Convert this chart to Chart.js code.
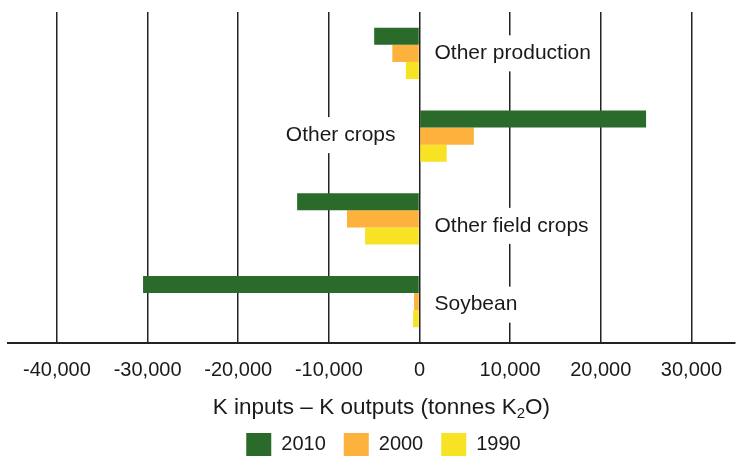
<!DOCTYPE html>
<html>
<head>
<meta charset="utf-8">
<script src="https://cdn.jsdelivr.net/npm/chart.js@4/dist/chart.umd.min.js"></script>
<style>
  html, body { margin: 0; padding: 0; background: #fff; }
  #wrap { width: 737px; height: 456px; }
</style>
</head>
<body>
<div id="wrap"><canvas id="myChart"></canvas></div>
<script>
// Balanço de K por categoria (toneladas K2O)
const categories = ['Other production', 'Other crops', 'Other field crops', 'Soybean'];
const years = ['2010', '2000', '1990'];
const values2010 = [-5000, 25000, -13500, -30500];
const values2000 = [-3000, 6000, -8000, -600];
const values1990 = [-1500, 3000, -6000, -700];
const xTicks = [-40000, -30000, -20000, -10000, 0, 10000, 20000, 30000];

const FONT = '"Liberation Sans", Arial, Helvetica, sans-serif';
const TEXT = '#1a1a1a';
// ajuste vertical (px) de cada rótulo de categoria
const labelNudge = [0, -1, 7, 3];

// Rótulos das categorias junto à linha do zero, com fundo branco
const categoryLabels = {
  id: 'categoryLabels',
  afterDatasetsDraw(chart) {
    const { ctx, scales: { x, y } } = chart;
    const zero = x.getPixelForValue(0);
    ctx.save();
    ctx.font = '21px ' + FONT;
    ctx.textBaseline = 'middle';
    ctx.textAlign = 'left';
    categories.forEach((name, i) => {
      const cy = y.getPixelForValue(i) + labelNudge[i];
      const w = ctx.measureText(name).width;
      const tx = values2010[i] > 0 ? zero - 24 - w : zero + 15;
      ctx.fillStyle = '#fff';
      ctx.fillRect(tx - 5, cy - 18, w + 10, 36);
      ctx.fillStyle = TEXT;
      ctx.fillText(name, tx, cy);
    });
    ctx.restore();
  }
};

// Título do eixo x com o 2 subscrito
const axisTitle = {
  id: 'axisTitle',
  afterDraw(chart) {
    const { ctx, chartArea, scales: { x } } = chart;
    const parts = [
      { t: 'K inputs \u2013 K outputs (tonnes K', size: 22.5, dy: 0 },
      { t: '2', size: 15, dy: 6 },
      { t: 'O)', size: 22.5, dy: 0 }
    ];
    ctx.save();
    ctx.fillStyle = TEXT;
    ctx.textBaseline = 'middle';
    ctx.textAlign = 'left';
    let total = 0;
    parts.forEach(p => {
      ctx.font = p.size + 'px ' + FONT;
      p.w = ctx.measureText(p.t).width;
      total += p.w;
    });
    let cx = (chartArea.left + chartArea.right) / 2 + 10 - total / 2;
    const cy = x.top + 65;
    parts.forEach(p => {
      ctx.font = p.size + 'px ' + FONT;
      ctx.fillText(p.t, cx, cy + p.dy);
      cx += p.w;
    });
    ctx.restore();
  }
};

// Desloca a legenda um pouco para a direita
const legendShift = {
  id: 'legendShift',
  afterLayout(chart) {
    if (chart.legend) {
      chart.legend.left += 11;
      chart.legend.right += 11;
    }
  }
};

const data = {
  labels: categories,
  datasets: [
    { label: years[0], data: values2010, backgroundColor: '#2a6a2a' },
    { label: years[1], data: values2000, backgroundColor: '#fcb23d' },
    { label: years[2], data: values1990, backgroundColor: '#f7e223' }
  ]
};

const options = {
  indexAxis: 'y',
  responsive: true,
  maintainAspectRatio: false,
  animation: false,
  layout: { padding: { left: 8, right: 0, top: 12, bottom: -10 } },
  datasets: {
    bar: { categoryPercentage: 0.62, barPercentage: 1.0, borderWidth: 0 }
  },
  scales: {
    x: {
      min: -45400,
      max: 34800,
      afterBuildTicks: (scale) => { scale.ticks = xTicks.map(v => ({ value: v })); },
      afterFit: (scale) => { scale.height = 72; },
      grid: { color: '#222', lineWidth: 1.5, drawTicks: false },
      border: { display: true, color: '#222', width: 2 },
      ticks: {
        padding: 15,
        color: TEXT,
        font: { family: FONT, size: 20 },
        maxRotation: 0,
        callback: (v) => Number(v).toLocaleString('en-US')
      }
    },
    y: { display: false }
  },
  plugins: {
    legend: {
      position: 'bottom',
      labels: {
        boxWidth: 25,
        boxHeight: 23,
        padding: 18,
        color: TEXT,
        font: { family: FONT, size: 20 }
      }
    },
    tooltip: { enabled: false }
  }
};

const ctx = document.getElementById('myChart').getContext('2d');
const myChart = new Chart(ctx, {
  type: 'bar',
  data: data,
  options: options,
  plugins: [categoryLabels, axisTitle, legendShift]
});
</script>
</body>
</html>
